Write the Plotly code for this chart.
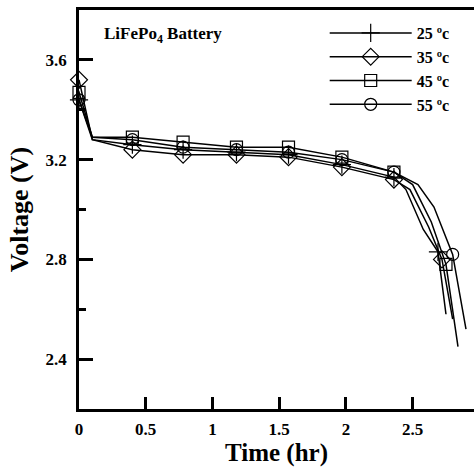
import plotly.graph_objects as go

# Data
t25 = [0.0, 0.10, 0.40, 0.78, 1.18, 1.57, 1.97, 2.36, 2.45, 2.58, 2.69, 2.75]
v25 = [3.44, 3.28, 3.26, 3.24, 3.23, 3.22, 3.18, 3.13, 3.08, 2.92, 2.83, 2.58]
m25 = [1, 0, 1, 1, 1, 1, 1, 1, 0, 0, 1, 0]

t35 = [0.0, 0.10, 0.40, 0.78, 1.18, 1.57, 1.97, 2.36, 2.48, 2.62, 2.72, 2.80]
v35 = [3.52, 3.28, 3.24, 3.22, 3.22, 3.21, 3.17, 3.12, 3.08, 2.93, 2.80, 2.56]
m35 = [1, 0, 1, 1, 1, 1, 1, 1, 0, 0, 1, 0]

t45 = [0.0, 0.10, 0.40, 0.78, 1.18, 1.57, 1.97, 2.36, 2.50, 2.64, 2.75, 2.84]
v45 = [3.47, 3.29, 3.29, 3.27, 3.25, 3.25, 3.21, 3.15, 3.10, 2.95, 2.78, 2.45]
m45 = [1, 0, 1, 1, 1, 1, 1, 1, 0, 0, 1, 0]

t55 = [0.0, 0.10, 0.40, 0.78, 1.18, 1.57, 1.97, 2.36, 2.54, 2.66, 2.80, 2.90]
v55 = [3.44, 3.29, 3.28, 3.25, 3.24, 3.23, 3.20, 3.15, 3.10, 3.01, 2.82, 2.52]
m55 = [1, 0, 1, 1, 1, 1, 1, 1, 0, 0, 1, 0]

labels = ["25 ºc", "35 ºc", "45 ºc", "55 ºc"]
symbols = ["cross-thin-open", "diamond-open", "square-open", "circle-open"]
msizes = [13, 13, 12, 12]

x_ticks = [0, 0.5, 1, 1.5, 2, 2.5]
x_ticklabels = ["0", "0.5", "1", "1.5", "2", "2.5"]

series = [(t25, v25, m25), (t35, v35, m35), (t45, v45, m45), (t55, v55, m55)]

SERIF = "Liberation Serif, Times New Roman, serif"

fig = go.Figure()
for (t, v, m), lab, sym, ms in zip(series, labels, symbols, msizes):
    cols = ["black" if k else "rgba(0,0,0,0)" for k in m]
    fig.add_trace(go.Scatter(
        x=t, y=v, name=lab, mode="lines+markers", cliponaxis=False,
        line=dict(color="black", width=1.5),
        marker=dict(symbol=sym, size=ms, color=cols,
                    line=dict(color=cols, width=1.2)),
    ))

fig.update_layout(
    width=474, height=467,
    margin=dict(l=79, r=0, t=10, b=58),
    paper_bgcolor="white", plot_bgcolor="white",
    font=dict(family=SERIF, color="black", size=16, weight="bold"),
    showlegend=True,
    legend=dict(
        x=0.622, y=0.985, xanchor="left", yanchor="top",
        bgcolor="rgba(0,0,0,0)", itemwidth=82,
        font=dict(family=SERIF, size=16, color="black", weight="bold"),
        tracegroupgap=0,
    ),
    annotations=[dict(
        text="LiFePo<sub>4</sub> Battery", xref="paper", yref="paper",
        x=0.058, y=0.937, xanchor="left", yanchor="middle", showarrow=False,
        font=dict(family=SERIF, size=17, color="black", weight="bold"),
    )],
)

fig.update_xaxes(
    range=[0, 2.96], showgrid=False, zeroline=False,
    showline=True, linecolor="black", linewidth=2.5, mirror=True,
    ticks="inside", ticklen=12, tickwidth=2.5, tickcolor="black",
    tickvals=x_ticks, ticktext=x_ticklabels, ticklabelstandoff=3,
    tickfont=dict(family=SERIF, size=17, color="black", weight="bold"),
    title=dict(text="Time (hr)", standoff=2,
               font=dict(family=SERIF, size=25, color="black", weight="bold")),
)
fig.update_yaxes(
    range=[2.2, 3.8], showgrid=False, zeroline=False,
    showline=True, linecolor="black", linewidth=2.5, mirror=False,
    ticks="inside", ticklen=14, tickwidth=2.5, tickcolor="black",
    tickmode="linear", tick0=2.4, dtick=0.4, tickformat=".1f",
    ticklabelstandoff=6,
    minor=dict(ticks="inside", ticklen=7, tickwidth=2.5, tickcolor="black",
               tick0=2.2, dtick=0.2),
    tickfont=dict(family=SERIF, size=17, color="black", weight="bold"),
    title=dict(text="Voltage (V)", standoff=10,
               font=dict(family=SERIF, size=26, color="black", weight="bold")),
)

fig.write_html("out.html")
